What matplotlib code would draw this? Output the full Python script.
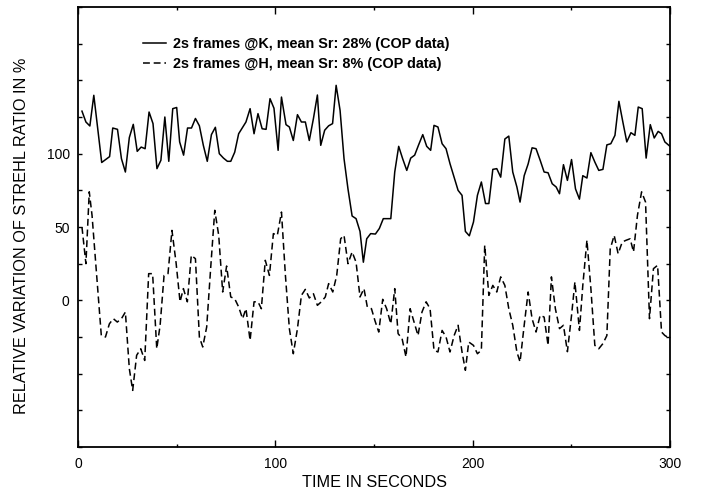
import numpy as np
import matplotlib
matplotlib.use("Agg")
import matplotlib.pyplot as plt

plt.rcParams['font.family'] = ['Liberation Sans', 'DejaVu Sans']

# time (s) and relative Strehl variation (%)
t_k = [2, 4, 6, 8, 12, 14, 16, 17.6, 20, 22, 24, 26, 28, 30, 32, 34, 36, 38, 40, 42,
       44, 46, 48, 50, 51.5, 53.5, 55.5, 57.5, 59.5, 61.5, 63.5, 65.5, 67.6, 69.6, 71.6,
       73.7, 75.7, 77.4, 79.4, 81.4, 83.4, 85.1, 87.2, 89.2, 91.2, 93.3, 95.3, 97.3, 99.3,
       101.4, 103.1, 105.4, 107.1, 109.1, 111.2, 113.2, 115.2, 117.2, 119.3, 121.3, 123,
       125, 127, 129, 130.8, 132.8, 134.8, 136.8, 138.9, 140.9, 142.9, 144.6, 146.3, 148.3,
       150.7, 152.7, 154.7, 156.8, 158.5, 160.5, 162.5, 164.5, 166.6, 168.6, 170.6, 172.6,
       174.7, 176.7, 178.7, 180.4, 182.4, 184.5, 186.5, 188.5, 190.6, 192.6, 194.6, 196.3,
       198.3, 200.4, 202.4, 204.4, 206.5, 208.2, 210.2, 212.2, 214.2, 216.3, 218.3, 220.3,
       222.4, 224, 226.1, 228.1, 230.1, 232.1, 234.2, 236.2, 238.2, 240.3, 242.3, 244, 246,
       248, 250.1, 252.1, 254.1, 255.8, 257.9, 259.9, 261.9, 263.9, 266, 268, 270, 272.1,
       274.1, 276.1, 278.1, 280.2, 282.2, 283.9, 285.9, 287.9, 290, 292, 294, 295.7, 297.4, 300]
sr_k = [129, 121.6, 118.9, 139.8, 94, 96, 98, 117.5, 116.6, 96.6, 87.5, 111, 120, 101.6,
        104.5, 103.4, 128.4, 120.5, 89.8, 95.5, 125, 94.8, 130.7, 131.5, 108, 99, 117.5,
        117.5, 124, 119, 105.7, 94.8, 113, 118, 100, 97, 94.8, 94.8, 101, 113.6, 118, 121.6,
        130.7, 113.6, 127.3, 117, 116.6, 137.5, 131, 102.3, 138.6, 119.8, 118.2, 109, 126.6,
        121.6, 121.6, 109, 124, 140, 105.7, 116, 119, 120.5, 146.6, 129.5, 96.6, 76, 57.5,
        55.7, 47, 26, 42, 45.5, 45.2, 49, 55.7, 55.7, 55.7, 87.5, 105, 96.6, 88.6, 97, 99,
        106, 113, 105, 102.3, 119.3, 118.2, 106.8, 103.4, 93.2, 84, 75, 71.6, 47, 44, 53.4,
        71.6, 80.7, 66, 66, 89.3, 89.8, 84, 110, 112, 87.5, 77.3, 67, 85, 93, 104, 103.4,
        95.5, 87.5, 87, 79.5, 77.3, 72.7, 92.5, 81.8, 96, 76, 69, 85, 83.4, 100.7, 94.3,
        88.6, 89.3, 106, 106.8, 112.5, 135.7, 121.6, 108, 114.3, 112.5, 131.8, 130.7, 97,
        119.8, 110.7, 115.2, 113.6, 108, 105]

t_h = [2, 4, 5.7, 7.1, 11.8, 13.9, 15.9, 17.9, 19.9, 22, 24, 26, 27.7, 29.7, 31.8, 33.8,
       35.8, 37.8, 39.9, 41.6, 43.6, 45.6, 47.6, 49.7, 51.7, 53.4, 55.4, 57.4, 59.5, 61.5,
       63.2, 65.2, 67.2, 69.3, 71.3, 73.3, 75.3, 77.4, 79.4, 81.4, 83.4, 85.1, 87.2, 89.2,
       91.2, 92.9, 94.9, 97, 99, 101, 103.1, 105.1, 107.1, 109.1, 111.2, 113.2, 115.2, 117.2,
       119.3, 121.3, 123.3, 125.3, 127, 129.1, 131.1, 133.1, 134.8, 136.8, 138.9, 140.9,
       142.9, 144.9, 146.6, 148.7, 150.5, 152.4, 154.4, 156.4, 158.5, 160.5, 162.2, 164.2,
       166.2, 168.3, 170.3, 172.3, 174.3, 176.4, 178.4, 180.4, 182.4, 184.5, 186.5, 188.5,
       190.6, 192.6, 194.6, 196.3, 198, 200.4, 202.4, 204.4, 206.1, 208.2, 210.2, 212.2,
       214.2, 216.3, 218.3, 220.3, 222.4, 224, 226.1, 228.1, 230.1, 232.1, 234.2, 236.2,
       238.2, 239.9, 241.9, 244, 246, 248, 250.1, 251.8, 254.1, 255.8, 257.9, 259.9, 261.9,
       263.9, 266, 268, 269.7, 271.7, 273.7, 275.8, 277.8, 279.8, 281.5, 283.5, 285.6, 287.6,
       289.6, 291.6, 293.7, 295.7, 297.4, 300]
sr_h = [50, 25, 74, 58, -24, -25, -16, -12.5, -14.8, -12.5, -8, -46.6, -61.4, -37.5, -33,
        -41, 18.2, 18.2, -33, -17, 17, 18.2, 47.7, 25.5, -1, 8, -1, 30.7, 28.4, -25, -31.8,
        -18.2, 21.6, 61.4, 44.3, 5.7, 23.4, 2.3, 1.1, -4.5, -12.5, -5.7, -27.3, -1, -1, -5.7,
        27.3, 17, 45.5, 44.3, 60.2, 17, -19.3, -36.4, -19.3, 3.4, 7.5, 1.6, 4.5, -3.4, -1,
        2.3, 11.4, 5.7, 17, 42, 44.3, 25, 33, 26, 2.3, 8, -4.5, -5.7, -14, -21.6, 0.7, -5.7,
        -16, 8, -22.7, -26, -38.6, -5.7, -14.8, -24, -8, -1, -5.7, -34, -35.2, -20.5, -25,
        -35.2, -24, -17, -35.2, -47.7, -28.4, -30.7, -36.4, -34, 37.5, 3.4, 10.2, 5.7, 16,
        10.2, -5.7, -17, -35.2, -42, -17, 5.7, -12.5, -21.6, -10.2, -11.4, -30.7, 16, -5.7,
        -19.3, -17, -35, -10.2, 12.5, -20.5, 10.2, 41, 8, -30.7, -33, -29.5, -24, 35, 44.3,
        31.8, 39.8, 41, 42, 33, 58, 74, 67, -12.5, 21.6, 23.9, -21.6, -24, -26]

labels = ['2s frames @K, mean Sr: 28% (COP data)',
          '2s frames @H, mean Sr: 8% (COP data)']

fig = plt.figure(figsize=(7.01, 4.91), dpi=100)
ax = fig.add_axes([0.1113, 0.0896, 0.8445, 0.8961])

ax.plot(t_k, sr_k, color='black', lw=1.1, label=labels[0])
ax.plot(t_h, sr_h, color='black', lw=1.1, dashes=(4.5, 2.5), label=labels[1])

ax.set_xlim(0, 300)
ax.set_ylim(-100, 200)
ax.set_xticks([0, 100, 200, 300])
ax.set_xticks([50, 150, 250], minor=True)
yt = np.arange(-100, 201, 25)
ax.set_yticks(yt)
ax.set_yticklabels([str(v) if v in (0, 50, 100) else '' for v in yt])
ax.tick_params(which='both', direction='in', top=True, right=True, labelsize=10, width=1)
ax.tick_params(axis='x', which='major', length=5, pad=7)
ax.tick_params(axis='x', which='minor', length=2.5)
ax.tick_params(axis='y', length=3, pad=6)
for s in ax.spines.values():
    s.set_linewidth(1.3)

ax.set_xlabel('TIME IN SECONDS', fontsize=11.7, labelpad=3)
ax.set_ylabel('RELATIVE VARIATION OF STREHL RATIO IN %', fontsize=11.7)
ax.yaxis.set_label_coords(-0.083, 0.48)

leg = ax.legend(loc='upper left', bbox_to_anchor=(0.11, 0.932), frameon=False,
                prop={'weight': 'bold', 'size': 10.4}, handlelength=1.6,
                handletextpad=0.5, borderpad=0, borderaxespad=0, labelspacing=0.4)

fig.savefig('out.png', dpi=100)
